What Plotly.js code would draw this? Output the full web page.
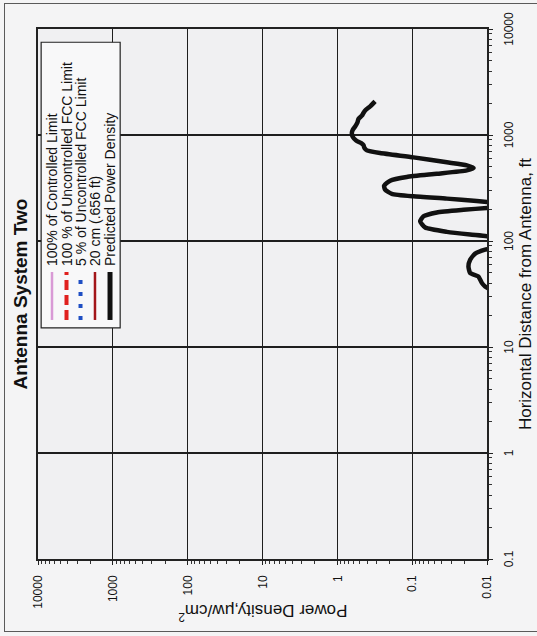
<!DOCTYPE html>
<html><head><meta charset="utf-8">
<script src="https://cdn.plot.ly/plotly-3.0.1.min.js"></script>
<style>
html,body{margin:0;padding:0;width:537px;height:636px;overflow:hidden;background:#f4f4f5;}
#chart{position:absolute;left:0;top:0;width:636px;height:537px;transform-origin:0 0;transform:translate(0px,636px) rotate(-90deg);}
#frame{position:absolute;left:4px;top:3px;width:560px;height:627px;border:1.5px solid #5a5a5a;pointer-events:none;}
</style></head><body>
<div id="chart"></div><div id="frame"></div>
<script>
// Predicted power density curve
const distanceFt = [34.7, 37.3, 40.2, 46.3, 49.9, 57.5, 66.5, 76, 83, 96, 111, 115, 122, 134, 153, 171, 186, 197, 205, 220, 233, 238, 251, 264, 279, 305, 333, 371, 402, 431, 464, 488, 517, 552, 615, 676, 716, 754, 805, 841, 889, 958, 1045, 1122, 1205, 1315, 1416, 1521, 1614, 1706, 1862, 2075];
const powerDensity = [0.009, 0.0106, 0.0117, 0.0131, 0.0168, 0.0177, 0.0168, 0.0144, 0.0106, 0.003, 0.0100, 0.0168, 0.0344, 0.0670, 0.0782, 0.0706, 0.0468, 0.0206, 0.0100, 0.004, 0.0100, 0.0137, 0.0344, 0.0961, 0.187, 0.230, 0.237, 0.197, 0.118, 0.0468, 0.0186, 0.0151, 0.0186, 0.0344, 0.0961, 0.268, 0.403, 0.434, 0.448, 0.485, 0.561, 0.621, 0.640, 0.621, 0.578, 0.538, 0.522, 0.470, 0.448, 0.425, 0.364, 0.313];

// Legend series
const seriesNames = ['100% of Controlled Limit', '100 % of Uncontrolled FCC Limit', '5 % of Uncontrolled FCC Limit', '20 cm (.656 ft)', 'Predicted Power Density'];
const seriesColors = ['#d99ad6', '#e0201e', '#1f4fc4', '#a3161a', '#111111'];
const seriesDash = ['solid', '10px,5px', '4px,8px', 'solid', 'solid'];
const seriesWidths = [2.5, 4, 4, 2.5, 5];

// Tick labels
const distTickVals = [0.1, 1, 10, 100, 1000, 10000];
const distTickText = ['0.1', '1', '10', '100', '1000', '10000'];
const powerTickVals = [0.01, 0.1, 1, 10, 100, 1000, 10000];
const powerTickText = ['0.01', '0.1', '1', '10', '100', '1000', '10000'];

function minorVals(lo, hi) {
  const out = [];
  for (let n = lo; n < hi; n++) for (let k = 2; k <= 9; k++) out.push(k * Math.pow(10, n));
  return out;
}

const traces = [{type: 'scatter', mode: 'lines', name: seriesNames[4], x: distanceFt, y: powerDensity,
  line: {color: seriesColors[4], width: 4.5, shape: 'spline', smoothing: 0.5}, showlegend: false}];

// manual legend (compact, like the original)
const legY = [0.9688, 0.9365, 0.9053, 0.8731, 0.8396];
const shapes = [{type: 'rect', xref: 'paper', yref: 'paper', x0: 0.436, x1: 0.975, y0: 0.817, y1: 0.993,
  line: {color: '#222', width: 1.2}, fillcolor: '#f8f8f9', layer: 'above'}];
const annotations = [];
seriesNames.forEach((nm, i) => {
  shapes.push({type: 'line', xref: 'paper', yref: 'paper', x0: 0.451, x1: 0.5415, y0: legY[i], y1: legY[i],
    line: {color: seriesColors[i], width: seriesWidths[i], dash: seriesDash[i]}, layer: 'above'});
  annotations.push({xref: 'paper', yref: 'paper', x: 0.549, y: legY[i], xanchor: 'left', yanchor: 'middle',
    text: nm, showarrow: false, font: {size: 14, color: '#111'}});
});
// y axis title, placed close to the tick labels as in the original
annotations.push({xref: 'paper', yref: 'paper', x: -0.102, y: 0.5, xanchor: 'center', yanchor: 'middle',
  textangle: -90, text: 'Power Density,μw/cm<sup>2</sup>', showarrow: false, font: {size: 17, color: '#111'}});

const axisCommon = {
  type: 'log', tickmode: 'array', ticks: 'outside', ticklen: 4, tickwidth: 1, tickcolor: '#222',
  ticklabelstandoff: 6, showgrid: true, gridcolor: '#1e1e1e', gridwidth: 1.2,
  showline: true, mirror: true, linecolor: '#222', linewidth: 2, zeroline: false,
  tickfont: {size: 12, color: '#111'}
};

const layout = {
  width: 636, height: 537,
  margin: {l: 77, r: 29, t: 38, b: 50, pad: 0},
  paper_bgcolor: '#f4f4f5', plot_bgcolor: '#f0f0f2',
  font: {family: 'Liberation Sans, Arial, sans-serif', size: 12, color: '#111'},
  title: {text: '<b>Antenna System Two</b>', font: {size: 19, color: '#111'}, x: 0.5, xref: 'paper', xanchor: 'center',
    y: 1 - 20 / 537, yref: 'container', yanchor: 'middle'},
  showlegend: false,
  xaxis: Object.assign({}, axisCommon, {range: [-1, 4], tickvals: distTickVals, ticktext: distTickText,
    minor: {tickmode: 'array', tickvals: minorVals(-1, 4), ticks: 'outside', ticklen: 3, tickcolor: '#333', showgrid: false},
    title: {text: 'Horizontal Distance from Antenna, ft', font: {size: 17, color: '#111'}, standoff: 4}}),
  yaxis: Object.assign({}, axisCommon, {range: [-2, 4], tickvals: powerTickVals, ticktext: powerTickText,
    ticklabelstandoff: 8,
    minor: {tickmode: 'array', tickvals: minorVals(-2, 4), ticks: 'outside', ticklen: 3, tickcolor: '#333', showgrid: false}}),
  shapes: shapes,
  annotations: annotations
};

Plotly.newPlot('chart', traces, layout, {displayModeBar: false, staticPlot: true});
</script></body></html>
